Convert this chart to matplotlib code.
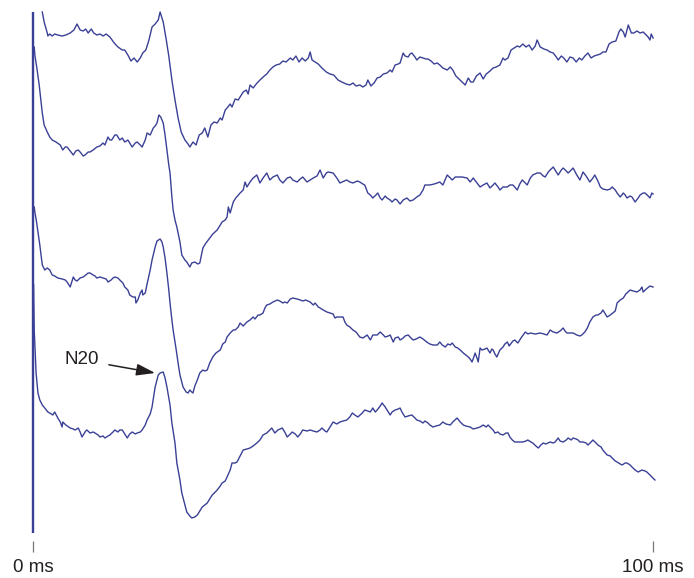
#!/usr/bin/env python3
"""Somatosensory evoked potentials: four averaged sweeps, 0-100 ms, with the N20 marked."""
import matplotlib.pyplot as plt

# (time in ms, vertical reading) pairs.
# The vertical readings grow downward, as on the printed page.
TRACE_1 = [
    (1.5, 12), (1.8, 22), (2.3, 33), (2.4, 36), (2.7, 34), (3.1, 36), (3.5, 34), (4.0, 35),
    (4.7, 36), (5.3, 35), (6.0, 33), (6.6, 30), (7.1, 24), (7.6, 30), (8.1, 31), (8.5, 29),
    (8.9, 33), (9.4, 29), (9.8, 33), (10.3, 35), (10.8, 34), (11.3, 36), (11.8, 34), (12.4, 37),
    (13.1, 43), (13.7, 47), (14.4, 50), (14.8, 50), (15.3, 55), (15.8, 61), (16.3, 58), (16.8, 62),
    (17.3, 58), (17.7, 53), (18.2, 50), (18.7, 40), (19.2, 27), (19.7, 24), (20.2, 20), (20.5, 12),
    (21.0, 22), (21.5, 40), (21.9, 56), (22.4, 80), (22.9, 100), (23.4, 118), (23.9, 132),
    (24.5, 140), (25.0, 144), (25.3, 147), (25.8, 142), (26.3, 145), (26.8, 135), (27.3, 133),
    (27.7, 128), (28.2, 137), (28.7, 125), (29.2, 122), (29.7, 123), (30.2, 118), (30.5, 120),
    (31.0, 110), (31.3, 108), (31.8, 104), (32.1, 107), (32.6, 99), (33.1, 100), (33.4, 97),
    (33.9, 92), (34.4, 90), (34.7, 94), (35.0, 85), (35.5, 88), (36.0, 84), (36.6, 80), (37.3, 76),
    (37.7, 74), (38.2, 70), (38.7, 67), (39.2, 65), (39.8, 64), (40.3, 61), (40.8, 62), (41.5, 58),
    (41.9, 60), (42.4, 56), (42.9, 62), (43.4, 58), (43.9, 61), (44.4, 58), (44.7, 52), (45.0, 60),
    (45.5, 62), (46.0, 64), (46.6, 68), (47.3, 72), (47.9, 74), (48.5, 75), (49.2, 80), (49.8, 82),
    (50.5, 84), (51.1, 85), (51.6, 83), (52.1, 86), (52.7, 85), (53.2, 87), (53.7, 85), (54.0, 80),
    (54.5, 86), (55.0, 83), (55.5, 78), (56.0, 77), (56.5, 74), (57.1, 73), (57.6, 70), (57.9, 72),
    (58.4, 65), (58.9, 64), (59.2, 63), (59.7, 53), (60.0, 56), (60.5, 57), (60.8, 54), (61.1, 53),
    (61.6, 57), (61.9, 60), (62.4, 57), (62.9, 58), (63.4, 59), (63.7, 59), (64.2, 61), (64.7, 64),
    (65.2, 63), (65.6, 65), (66.1, 68), (66.8, 70), (67.3, 67), (67.7, 70), (68.2, 76), (68.7, 79),
    (69.2, 82), (69.7, 85), (70.2, 78), (70.6, 82), (71.0, 82), (71.5, 76), (72.1, 73), (72.6, 79),
    (73.1, 74), (73.7, 71), (74.2, 68), (74.7, 67), (75.3, 65), (75.8, 58), (76.1, 60), (76.6, 58),
    (77.1, 50), (77.6, 48), (78.1, 46), (78.5, 47), (79.0, 44), (79.5, 47), (80.0, 45), (80.5, 50),
    (81.0, 46), (81.3, 40), (81.8, 47), (82.4, 49), (82.9, 50), (83.4, 52), (83.9, 53), (84.4, 57),
    (84.7, 60), (85.2, 56), (85.6, 58), (86.1, 62), (86.6, 57), (87.1, 58), (87.6, 62), (88.1, 58),
    (88.5, 60), (89.0, 56), (89.5, 53), (90.0, 58), (90.5, 56), (91.0, 55), (91.5, 54), (91.9, 52),
    (92.4, 52), (92.9, 44), (93.4, 42), (94.0, 41), (94.5, 32), (94.8, 29), (95.2, 32), (95.5, 37),
    (96.0, 25), (96.5, 33), (96.9, 33), (97.4, 31), (97.9, 33), (98.4, 32), (98.9, 35), (99.2, 37),
    (99.5, 40), (99.7, 34), (100.0, 38),
]

TRACE_2 = [
    (0.2, 47), (0.3, 55), (0.6, 67), (1.0, 85), (1.5, 113), (1.8, 125), (2.3, 132), (2.7, 137),
    (3.1, 140), (3.7, 142), (4.4, 145), (4.8, 150), (5.2, 147), (5.5, 147), (6.0, 151), (6.5, 155),
    (6.9, 151), (7.3, 150), (7.6, 152), (8.1, 156), (8.4, 155), (8.9, 152), (9.2, 152), (9.7, 150),
    (10.3, 147), (10.8, 146), (11.3, 143), (11.6, 145), (12.1, 137), (12.4, 140), (12.7, 140),
    (13.2, 135), (13.5, 135), (14.0, 140), (14.4, 138), (14.8, 142), (15.3, 140), (15.6, 143),
    (16.0, 147), (16.5, 143), (16.8, 142), (17.3, 145), (17.6, 147), (18.1, 140), (18.4, 133),
    (18.9, 135), (19.4, 128), (19.7, 126), (20.0, 123), (20.3, 115), (20.6, 117), (21.0, 123),
    (21.3, 135), (21.6, 150), (21.9, 165), (22.1, 173), (22.4, 197), (22.6, 210), (22.9, 220),
    (23.2, 227), (23.7, 242), (24.0, 255), (24.5, 260), (24.8, 262), (25.3, 267), (25.6, 263),
    (26.1, 262), (26.6, 264), (26.9, 263), (27.4, 248), (27.9, 243), (28.5, 238), (29.0, 234),
    (29.7, 230), (30.2, 225), (30.5, 222), (31.0, 220), (31.3, 217), (31.5, 207), (31.8, 213),
    (32.3, 202), (32.7, 198), (33.4, 193), (33.9, 190), (34.2, 182), (34.5, 187), (35.0, 182),
    (35.5, 178), (36.1, 175), (36.6, 183), (37.1, 178), (37.7, 173), (38.2, 180), (38.7, 177),
    (39.4, 175), (39.8, 180), (40.3, 183), (41.0, 178), (41.5, 177), (41.9, 180), (42.6, 182),
    (43.1, 179), (43.5, 177), (44.2, 182), (44.7, 180), (45.2, 178), (45.8, 176), (46.3, 170),
    (46.8, 178), (47.3, 173), (47.6, 172), (48.4, 173), (49.0, 178), (49.5, 183), (50.2, 181),
    (50.6, 180), (51.1, 182), (51.6, 183), (52.3, 181), (52.7, 182), (53.2, 184), (53.5, 185),
    (54.0, 193), (54.4, 195), (54.8, 198), (55.3, 195), (55.6, 193), (56.0, 198), (56.3, 200),
    (56.8, 196), (57.1, 198), (57.6, 200), (57.9, 202), (58.4, 199), (58.7, 200), (59.2, 204),
    (59.7, 200), (60.3, 198), (60.8, 201), (61.3, 200), (61.9, 197), (62.4, 195), (62.9, 190),
    (63.2, 185), (64.0, 185), (64.7, 184), (65.2, 183), (65.6, 182), (66.1, 185), (66.8, 175),
    (67.3, 178), (67.6, 180), (68.1, 177), (68.4, 177), (69.2, 177), (70.0, 178), (70.5, 182),
    (71.0, 178), (71.6, 183), (72.1, 187), (72.6, 185), (73.2, 183), (73.7, 188), (74.2, 185),
    (74.5, 183), (75.0, 187), (75.3, 190), (75.8, 187), (76.5, 187), (76.9, 185), (77.4, 185),
    (78.1, 190), (78.5, 184), (78.9, 180), (79.4, 183), (79.7, 185), (80.2, 178), (80.6, 175),
    (81.3, 173), (81.8, 173), (82.3, 176), (82.6, 177), (83.1, 172), (83.4, 170), (83.9, 167),
    (84.4, 172), (84.7, 175), (85.2, 170), (85.5, 168), (86.0, 171), (86.3, 173), (86.8, 170),
    (87.1, 168), (87.7, 175), (88.2, 180), (88.7, 172), (89.2, 176), (89.8, 182), (90.3, 178),
    (90.6, 175), (91.1, 181), (91.5, 187), (91.9, 189), (92.6, 190), (93.1, 189), (93.4, 187),
    (93.9, 190), (94.2, 193), (94.7, 197), (95.2, 193), (95.5, 195), (95.8, 198), (96.3, 196),
    (96.6, 197), (97.1, 202), (97.6, 198), (97.9, 195), (98.4, 193), (98.7, 193), (99.2, 196),
    (99.5, 198), (99.8, 193), (100.0, 194),
]

TRACE_3 = [
    (0.2, 207), (0.3, 212), (0.6, 223), (1.1, 245), (1.5, 265), (1.9, 270), (2.3, 268), (2.7, 270),
    (3.1, 275), (3.5, 276), (4.0, 278), (4.7, 279), (5.2, 280), (5.5, 282), (6.0, 287), (6.5, 277),
    (6.8, 280), (7.1, 281), (7.6, 278), (8.1, 277), (8.5, 275), (8.9, 273), (9.2, 273), (9.7, 275),
    (10.0, 276), (10.3, 278), (10.8, 277), (11.3, 278), (11.8, 279), (12.1, 282), (12.6, 280),
    (12.9, 278), (13.2, 277), (13.7, 278), (14.0, 280), (14.5, 283), (14.8, 287), (15.3, 290),
    (15.6, 295), (16.1, 297), (16.5, 297), (16.6, 303), (16.9, 300), (17.3, 293), (17.6, 290),
    (17.7, 295), (18.1, 293), (18.4, 284), (18.9, 270), (19.2, 260), (19.7, 247), (20.0, 241),
    (20.5, 239), (20.8, 242), (21.0, 247), (21.3, 258), (21.6, 273), (21.9, 290), (22.1, 303),
    (22.4, 320), (22.6, 330), (23.1, 350), (23.4, 363), (23.7, 375), (24.2, 387), (24.7, 392),
    (25.0, 393), (25.3, 390), (25.6, 392), (25.8, 393), (26.1, 386), (26.5, 380), (26.9, 373),
    (27.4, 370), (27.7, 371), (28.1, 370), (28.5, 363), (29.0, 357), (29.5, 353), (30.2, 350),
    (30.6, 344), (31.0, 342), (31.3, 337), (31.8, 333), (32.3, 330), (32.6, 330), (33.1, 327),
    (33.4, 323), (33.9, 326), (34.5, 322), (35.0, 320), (35.5, 317), (35.8, 319), (36.3, 315),
    (36.6, 315), (37.1, 313), (37.4, 308), (37.7, 305), (38.2, 304), (38.7, 302), (39.4, 300),
    (39.8, 301), (40.3, 303), (40.6, 302), (41.0, 303), (41.5, 299), (41.9, 298), (42.6, 299),
    (43.1, 300), (43.5, 301), (44.0, 300), (44.7, 302), (45.2, 305), (45.5, 303), (46.0, 307),
    (46.3, 308), (46.8, 310), (47.4, 312), (47.9, 313), (48.4, 314), (48.7, 318), (49.0, 317),
    (49.5, 317), (50.0, 317), (50.3, 322), (50.6, 325), (51.1, 327), (51.6, 330), (52.1, 332),
    (52.7, 337), (53.2, 338), (53.9, 335), (54.4, 340), (54.8, 335), (55.5, 335), (56.0, 332),
    (56.5, 335), (56.8, 337), (57.3, 336), (57.6, 335), (58.1, 342), (58.4, 338), (58.9, 337),
    (59.2, 340), (59.7, 338), (60.0, 336), (60.5, 335), (60.8, 337), (61.3, 340), (61.8, 339),
    (62.4, 337), (62.9, 339), (63.5, 342), (64.0, 344), (64.5, 345), (65.2, 345), (65.6, 342),
    (66.0, 345), (66.5, 347), (66.9, 344), (67.3, 345), (67.6, 343), (68.1, 347), (68.5, 348),
    (68.9, 350), (69.4, 353), (69.8, 355), (70.2, 357), (70.5, 359), (70.8, 362), (71.1, 357),
    (71.3, 353), (71.6, 358), (71.8, 362), (72.1, 348), (72.4, 350), (72.9, 349), (73.2, 348),
    (73.7, 353), (74.0, 349), (74.2, 350), (74.5, 354), (74.8, 357), (75.3, 350), (75.8, 347),
    (76.1, 344), (76.5, 342), (76.8, 346), (76.9, 345), (77.4, 341), (77.7, 340), (78.2, 343),
    (78.7, 338), (79.4, 332), (79.8, 334), (80.2, 333), (81.0, 334), (81.8, 333), (82.4, 334),
    (82.9, 335), (83.4, 330), (83.9, 332), (84.5, 333), (85.0, 331), (85.5, 328), (85.8, 331),
    (86.1, 333), (86.6, 333), (87.1, 333), (87.7, 335), (88.2, 336), (88.5, 335), (89.0, 332),
    (89.4, 328), (89.8, 322), (90.3, 317), (90.8, 315), (91.1, 315), (91.6, 313), (91.9, 310),
    (92.3, 314), (92.6, 317), (93.1, 315), (93.5, 313), (93.9, 311), (94.2, 303), (94.7, 300),
    (95.2, 298), (95.6, 294), (96.3, 290), (96.8, 291), (97.4, 292), (97.9, 290), (98.2, 287),
    (98.4, 292), (98.9, 289), (99.5, 286), (100.0, 287),
]

TRACE_4 = [
    (0.1, 285), (0.2, 330), (0.3, 345), (0.5, 373), (0.8, 393), (1.1, 400), (1.5, 405), (1.9, 408),
    (2.4, 412), (2.7, 413), (3.2, 415), (3.5, 412), (4.0, 418), (4.4, 422), (4.7, 427), (4.8, 422),
    (5.3, 425), (6.0, 428), (6.5, 429), (6.8, 430), (7.3, 428), (7.6, 432), (7.9, 437), (8.5, 431),
    (8.7, 430), (9.2, 433), (9.7, 432), (10.0, 433), (10.5, 435), (10.8, 437), (11.3, 436),
    (11.6, 438), (12.1, 436), (12.4, 435), (12.9, 432), (13.2, 430), (13.7, 432), (14.0, 430),
    (14.4, 430), (14.8, 434), (15.2, 438), (15.6, 434), (16.0, 432), (16.5, 434), (16.8, 433),
    (17.3, 432), (17.6, 430), (18.1, 425), (18.4, 420), (18.9, 414), (19.2, 407), (19.7, 387),
    (20.2, 375), (20.5, 373), (21.0, 372), (21.3, 378), (21.6, 387), (22.1, 405), (22.4, 423),
    (22.9, 443), (23.2, 463), (23.7, 480), (24.0, 493), (24.5, 505), (24.8, 512), (25.3, 516),
    (25.6, 518), (26.1, 517), (26.5, 515), (26.9, 511), (27.3, 507), (27.7, 505), (28.1, 503),
    (28.5, 499), (28.9, 495), (29.4, 492), (29.7, 490), (30.2, 486), (30.5, 483), (31.0, 481),
    (31.3, 477), (31.8, 470), (32.1, 463), (32.6, 463), (32.9, 462), (33.4, 456), (33.9, 450),
    (34.5, 449), (35.0, 448), (35.5, 446), (36.1, 443), (36.6, 440), (37.1, 435), (37.4, 434),
    (37.7, 433), (38.2, 430), (38.5, 428), (39.0, 433), (39.5, 430), (40.2, 428), (40.6, 432),
    (41.0, 437), (41.5, 434), (41.8, 432), (42.3, 434), (42.7, 437), (43.1, 434), (43.5, 430),
    (44.2, 431), (44.7, 430), (45.2, 431), (45.8, 432), (46.3, 430), (46.6, 428), (47.1, 431),
    (47.4, 432), (47.9, 427), (48.4, 422), (49.0, 424), (49.5, 422), (50.0, 421), (50.6, 420),
    (51.1, 417), (51.5, 413), (51.9, 415), (52.4, 417), (53.1, 413), (53.5, 410), (54.0, 411),
    (54.4, 412), (54.8, 408), (55.2, 412), (55.5, 410), (56.0, 406), (56.3, 403), (56.8, 407),
    (57.1, 410), (57.6, 415), (57.9, 412), (58.4, 410), (58.9, 409), (59.2, 408), (59.5, 412),
    (60.0, 417), (60.5, 416), (61.1, 415), (61.6, 418), (61.9, 420), (62.4, 421), (62.9, 423),
    (63.2, 421), (63.7, 423), (64.0, 425), (64.5, 427), (65.0, 426), (65.6, 425), (66.1, 422),
    (66.6, 424), (67.3, 425), (67.7, 422), (68.4, 418), (68.9, 422), (69.4, 425), (69.8, 426),
    (70.5, 427), (71.0, 429), (71.6, 428), (72.1, 427), (72.6, 425), (73.1, 427), (73.4, 425),
    (73.7, 427), (74.2, 430), (74.5, 433), (75.0, 432), (75.3, 434), (75.8, 435), (76.3, 433),
    (76.6, 433), (76.9, 437), (77.3, 440), (77.7, 442), (78.2, 442), (79.0, 442), (79.5, 441),
    (79.8, 440), (80.3, 442), (80.6, 443), (81.1, 446), (81.5, 448), (81.9, 445), (82.3, 443),
    (82.7, 444), (83.4, 442), (83.9, 443), (84.2, 442), (84.7, 438), (85.0, 441), (85.5, 442),
    (86.0, 440), (86.3, 438), (86.8, 440), (87.1, 438), (87.6, 439), (87.9, 440), (88.2, 442),
    (88.7, 442), (89.2, 443), (89.5, 445), (90.0, 442), (90.3, 440), (90.8, 443), (91.1, 445),
    (91.6, 447), (91.9, 450), (92.3, 453), (92.6, 455), (93.1, 456), (93.4, 458), (93.9, 461),
    (94.2, 462), (94.7, 464), (95.0, 465), (95.5, 463), (95.8, 463), (96.3, 465), (96.6, 467),
    (97.1, 470), (97.6, 472), (97.9, 471), (98.2, 470), (98.7, 471), (99.0, 472), (99.5, 475),
    (99.8, 477), (100.3, 480),
]

TRACES = [TRACE_1, TRACE_2, TRACE_3, TRACE_4]
N20_TRACE = 3  # index of the sweep whose N20 carries the label
STIM_MS = 0
TICK_MS = [0, 100]
TICK_LABELS = ["0 ms", "100 ms"]

COLOR = "#3a4095"
FONT = ["Liberation Sans", "DejaVu Sans"]


def main() -> None:
    fig = plt.figure(figsize=(6.94, 5.78), dpi=100)
    ax = fig.add_axes([0, 0, 1, 1])
    ax.set_xlim(-5.32, 106.6)
    ax.set_ylim(578, 0)
    ax.axis("off")

    # stimulus marker
    ax.vlines(STIM_MS, 12, 533, color=COLOR, linewidth=1.7)

    for trace in TRACES:
        t = [p[0] for p in trace]
        y = [p[1] for p in trace]
        ax.plot(t, y, color=COLOR, linewidth=1.0, solid_joinstyle="round")

    # time ticks under the sweeps
    ax.vlines(TICK_MS, 541, 552, color="#777777", linewidth=0.9)
    for ms, lab in zip(TICK_MS, TICK_LABELS):
        ax.text(ms, 568, lab, ha="center", va="center", fontsize=13.5,
                color="#231f20", family=FONT)

    # N20 label: the first positive-going peak after 15 ms on the chosen sweep
    win = [p for p in TRACES[N20_TRACE] if 15 < p[0] < 25]
    t_pk, y_pk = min(win, key=lambda p: p[1])
    ax.annotate(
        "N20",
        xy=(t_pk - 1.3, y_pk + 1),
        xytext=(t_pk - 13.1, y_pk - 12),
        ha="center",
        va="center",
        fontsize=13.5,
        color="#231f20",
        family=FONT,
        arrowprops=dict(
            arrowstyle="-|>,head_length=0.95,head_width=0.3",
            color="#231f20",
            linewidth=1.1,
            shrinkA=5,
            shrinkB=0,
            mutation_scale=12,
        ),
    )

    fig.savefig("out.png", dpi=100)


if __name__ == "__main__":
    main()
